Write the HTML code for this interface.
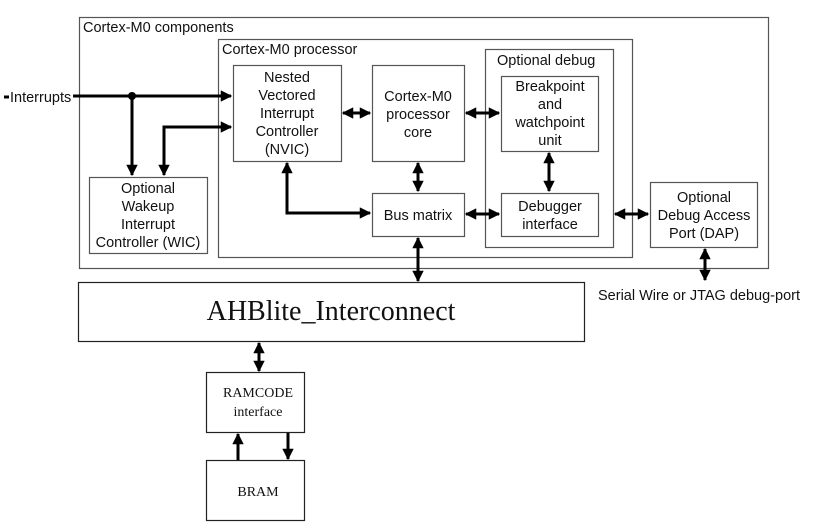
<!DOCTYPE html>
<html><head><style>
body{margin:0;background:#fff;}
svg text{font-family:"Liberation Sans",Arial,sans-serif;font-size:14.5px;fill:#111;}
.s{font-family:"Liberation Serif",serif !important;}
</style></head><body>
<svg width="820" height="527" viewBox="0 0 820 527" xmlns="http://www.w3.org/2000/svg">
<defs>
<marker id="a" viewBox="0 0 10 10" refX="9" refY="5" markerWidth="3.8" markerHeight="3.8" orient="auto-start-reverse"><path d="M0,0L10,5L0,10z" fill="#000"/></marker>
</defs>
<g fill="none" stroke="#555" stroke-width="1.2">
<rect x="79.5" y="17.5" width="689" height="251"/>
<rect x="218.5" y="39.5" width="414" height="218"/>
<rect x="233.5" y="65.5" width="108" height="96"/>
<rect x="372.5" y="65.5" width="92" height="96"/>
<rect x="485.5" y="49.5" width="128" height="198"/>
<rect x="501.5" y="76.5" width="97" height="75"/>
<rect x="501.5" y="193.5" width="97" height="43"/>
<rect x="372.5" y="193.5" width="92" height="43"/>
<rect x="89.5" y="177.5" width="118" height="76"/>
<rect x="650.5" y="182.5" width="107" height="65"/>
</g>
<g fill="none" stroke="#222" stroke-width="1.2">
<rect x="78.5" y="282.5" width="506" height="59"/>
<rect x="206.5" y="372.5" width="98" height="60"/>
<rect x="206.5" y="460.5" width="98" height="60"/>
</g>
<g fill="none" stroke="#000" stroke-width="3">
<path d="M4,97H9"/>
<path d="M73,96H231" marker-end="url(#a)"/>
<path d="M132,96V175" marker-end="url(#a)"/>
<path d="M164,175V127H231" marker-start="url(#a)" marker-end="url(#a)"/>
<path d="M343,113H370" marker-start="url(#a)" marker-end="url(#a)"/>
<path d="M466,113H499" marker-start="url(#a)" marker-end="url(#a)"/>
<path d="M418,163V191" marker-start="url(#a)" marker-end="url(#a)"/>
<path d="M287,163V213H370" marker-start="url(#a)" marker-end="url(#a)"/>
<path d="M466,214H499" marker-start="url(#a)" marker-end="url(#a)"/>
<path d="M615,214H648" marker-start="url(#a)" marker-end="url(#a)"/>
<path d="M549,153V191" marker-start="url(#a)" marker-end="url(#a)"/>
<path d="M705,249V280" marker-start="url(#a)" marker-end="url(#a)"/>
<path d="M418,238V281" marker-start="url(#a)" marker-end="url(#a)"/>
<path d="M259,343V371" marker-start="url(#a)" marker-end="url(#a)"/>
<path d="M238,460V434" marker-end="url(#a)"/>
<path d="M288,433V459" marker-end="url(#a)"/>
</g>
<circle cx="132" cy="96" r="4" fill="#000"/>
<text x="83" y="32">Cortex-M0 components</text>
<text x="222" y="54">Cortex-M0 processor</text>
<text x="497" y="65">Optional debug</text>
<text x="10" y="102">Interrupts</text>
<g text-anchor="middle">
<text x="287" y="82">Nested</text><text x="287" y="100">Vectored</text><text x="287" y="118">Interrupt</text><text x="287" y="136">Controller</text><text x="287" y="154">(NVIC)</text>
<text x="418" y="101">Cortex-M0</text><text x="418" y="119">processor</text><text x="418" y="137">core</text>
<text x="550" y="91">Breakpoint</text><text x="550" y="109">and</text><text x="550" y="127">watchpoint</text><text x="550" y="145">unit</text>
<text x="550" y="211">Debugger</text><text x="550" y="229">interface</text>
<text x="418" y="220">Bus matrix</text>
<text x="148" y="193">Optional</text><text x="148" y="211">Wakeup</text><text x="148" y="229">Interrupt</text><text x="148" y="247">Controller (WIC)</text>
<text x="704" y="202">Optional</text><text x="704" y="220">Debug Access</text><text x="704" y="238">Port (DAP)</text>
<text x="331" y="320" class="s" style="font-size:28px">AHBlite_Interconnect</text>
<text x="258" y="397" class="s" style="font-size:14px">RAMCODE</text>
<text x="258" y="416" class="s" style="font-size:14px">interface</text>
<text x="258" y="496" class="s" style="font-size:14px">BRAM</text>
</g>
<text x="598" y="300">Serial Wire or JTAG debug-port</text>
</svg>
</body></html>
